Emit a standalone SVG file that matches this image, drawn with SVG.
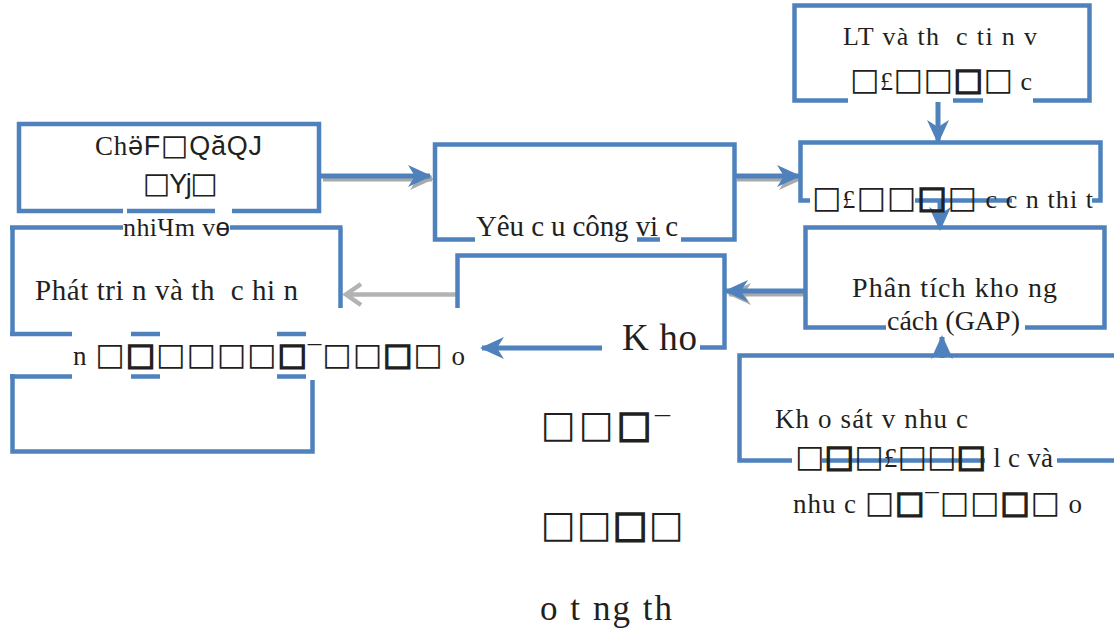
<svg xmlns="http://www.w3.org/2000/svg" width="1114" height="631" viewBox="0 0 1114 631">
  <defs>
    <style>
      .bx { fill: none; stroke: #4f81bd; stroke-width: 4.5; }
      .t { font-family: "Liberation Serif", "DejaVu Serif", serif; fill: #231f20; white-space: pre; }
      .s { font-family: "Liberation Sans", "DejaVu Sans", sans-serif; }
      .q { font-family: "DejaVu Sans", sans-serif; font-size: 31px; }
      .qS { font-family: "DejaVu Sans", sans-serif; font-size: 29px; }
      .qL { font-family: "DejaVu Sans", sans-serif; font-size: 37px; }
      .qb { stroke: #231f20; stroke-width: 1.5; }
      .ln { fill: none; stroke: #4f81bd; stroke-width: 5; }
      .sh { fill: none; stroke: #a9a9a9; stroke-width: 5; }
    </style>
    <marker id="ah" viewBox="0 0 24 24" refX="22" refY="12" markerWidth="24" markerHeight="24" orient="auto" markerUnits="userSpaceOnUse">
      <path d="M0,1 L24,12 L0,23 L7,12 Z" fill="#4f81bd"/>
    </marker>
    <marker id="ahs" viewBox="0 0 24 24" refX="22" refY="12" markerWidth="24" markerHeight="24" orient="auto" markerUnits="userSpaceOnUse">
      <path d="M0,1 L24,12 L0,23 L7,12 Z" fill="#a9a9a9"/>
    </marker>
  </defs>
  <rect width="1114" height="631" fill="#ffffff"/>

  <!-- connectors -->
  <g id="connectors">
    <!-- shadows -->
    <path class="sh" d="M323,179 H432" marker-end="url(#ahs)"/>
    <path class="sh" d="M737,179 H801" marker-end="url(#ahs)"/>
    <path class="sh" d="M805,294 H729" marker-end="url(#ahs)"/>
    <!-- blue arrows -->
    <path class="ln" d="M321,176 H430" marker-end="url(#ah)"/>
    <path class="ln" d="M735,176 H799" marker-end="url(#ah)"/>
    <path class="ln" d="M938,102 V142" marker-end="url(#ah)"/>
    <path class="ln" d="M940,202 V229" marker-end="url(#ah)"/>
    <path class="ln" d="M805,291 H726" marker-end="url(#ah)"/>
    <path class="ln" d="M602,348 H482" marker-end="url(#ah)"/>
    <path class="ln" d="M942,358 V337" marker-end="url(#ah)"/>
    <!-- grey open arrow -->
    <path d="M457,294.5 H348" fill="none" stroke="#b3b3b3" stroke-width="4.5"/>
    <path d="M361,284 L346,294.5 L361,305" fill="none" stroke="#b3b3b3" stroke-width="4.5"/>
  </g>

  <!-- competency box -->
  <g id="node-competency">
    <path class="bx" d="M123,211 H19 V124 H319 V211 H232 M215,211 H127"/>
    <text class="t" x="95" y="155" font-size="27" textLength="167">Ch<tspan class="s">ӛF</tspan><tspan class="qS">□</tspan><tspan class="s">QăQJ</tspan></text>
    <text class="t s" x="143" y="193" font-size="27" textLength="75"><tspan class="qS">□</tspan>Yj<tspan class="qS">□</tspan></text>
    <text class="t" x="123" y="236" font-size="26" textLength="107">nhiЧm v<tspan class="s">ө</tspan></text>
  </g>

  <!-- job requirements box -->
  <g id="node-job">
    <path class="bx" d="M475,239.5 H435 V144.5 H734.5 V239.5 H681 M660,239.5 H637"/>
    <text class="t" x="476" y="236" font-size="29" textLength="202">Yêu c u công vi c</text>
  </g>

  <!-- theory and practice box -->
  <g id="node-theory">
    <path class="bx" d="M848,100.5 H794.5 V5.5 H1089.5 V100.5 H1033 M983,100.5 H953"/>
    <text class="t" x="843" y="45" font-size="26" textLength="194">LT và th  c ti n v</text>
    <text class="t" x="850" y="90" font-size="26" textLength="182"><tspan class="q">□</tspan>£<tspan class="q">□□</tspan><tspan class="q qb">□</tspan><tspan class="q">□</tspan> c</text>
  </g>

  <!-- required competency box -->
  <g id="node-required">
    <path class="bx" d="M810,200.5 H800.5 V142.5 H1100.5 V200.5 H1092 M1012,200.5 H915"/>
    <text class="t" x="812" y="208" font-size="26" textLength="281"><tspan class="q">□</tspan>£<tspan class="q">□□</tspan><tspan class="q qb">□</tspan><tspan class="q">□</tspan> c c n thi t</text>
  </g>

  <!-- gap analysis box -->
  <g id="node-gap">
    <path class="bx" d="M886,327.5 H805.5 V227.5 H1104.5 V327.5 H1025"/>
    <text class="t" x="852" y="297" font-size="28" textLength="205">Phân tích kho ng</text>
    <text class="t" x="887" y="330" font-size="28" textLength="133">cách (GAP)</text>
  </g>

  <!-- survey box -->
  <g id="node-survey">
    <path class="bx" d="M792,460.5 H739.5 V355.5 H1114 M822,460.5 H985 M1057,460.5 H1114"/>
    <text class="t" x="775" y="428" font-size="27" textLength="193">Kh o sát v nhu c</text>
    <text class="t" x="795" y="467" font-size="27" textLength="258"><tspan class="q">□</tspan><tspan class="q qb">□</tspan><tspan class="q">□</tspan>£<tspan class="q">□□</tspan><tspan class="q qb">□</tspan> l c và</text>
    <text class="t" x="793" y="513" font-size="27" textLength="289">nhu c <tspan class="q">□</tspan><tspan class="q qb">□</tspan>¯<tspan class="q">□□</tspan><tspan class="q qb">□</tspan><tspan class="q">□</tspan> o</text>
  </g>

  <!-- gap result box -->
  <g id="node-result">
    <path class="bx" d="M457.5,308 V255.5 H724.5 V347.5 H700"/>
    <text class="t" x="622" y="350" font-size="37" textLength="75">K ho</text>
    <text class="t" x="541" y="437" font-size="30" textLength="129"><tspan class="qL">□□</tspan><tspan class="qL qb">□</tspan>¯</text>
    <text class="t" x="541" y="537" font-size="30" textLength="143"><tspan class="qL">□□</tspan><tspan class="qL qb">□</tspan><tspan class="qL">□</tspan></text>
    <text class="t" x="540" y="620" font-size="35" textLength="132">o t ng th</text>
  </g>

  <!-- development box -->
  <g id="node-develop">
    <path class="bx" d="M10,227.5 H123 M230,227.5 H342.5 M340.5,227.5 V308 M12.5,227.5 V336 M10,334 H72 M131,334 H160 M277,334 H306"/>
    <path class="bx" d="M10,376.5 H72 M131,376.5 H160 M277,376.5 H306 M12.5,374 V451.5 H312.5 V380"/>
    <text class="t" x="35" y="300" font-size="29" textLength="263">Phát tri n và th  c hi n</text>
    <text class="t" x="73" y="365" font-size="27" textLength="392">n <tspan class="q">□</tspan><tspan class="q qb">□</tspan><tspan class="q">□□□□</tspan><tspan class="q qb">□</tspan>¯<tspan class="q">□□</tspan><tspan class="q qb">□</tspan><tspan class="q">□</tspan> o</text>
  </g>
</svg>
